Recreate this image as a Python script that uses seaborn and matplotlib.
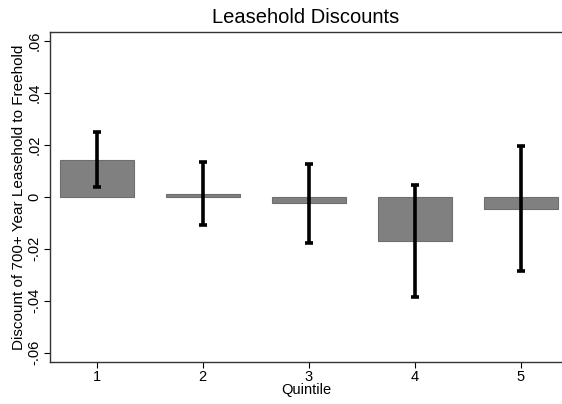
import matplotlib
matplotlib.use('Agg')
import matplotlib.pyplot as plt
import seaborn as sns
import pandas as pd

quintiles = ['1', '2', '3', '4', '5']
discount = [0.0141, 0.0012, -0.0026, -0.0170, -0.0047]
ci_low = [0.0036, -0.0110, -0.0178, -0.0385, -0.0287]
ci_high = [0.0248, 0.0132, 0.0127, 0.0044, 0.0195]
ytick_vals = [-0.06, -0.04, -0.02, 0, 0.02, 0.04, 0.06]
ytick_labels = ['-.06', '-.04', '-.02', '0', '.02', '.04', '.06']

sns.set_style('white')
plt.rcParams['font.family'] = ['Liberation Sans', 'DejaVu Sans']
plt.rcParams['text.color'] = 'black'
plt.rcParams['axes.labelcolor'] = 'black'
plt.rcParams['xtick.color'] = 'black'
plt.rcParams['ytick.color'] = 'black'

df = pd.DataFrame({'Quintile': quintiles, 'Discount': discount})

fig = plt.figure(figsize=(5.62, 4.04), dpi=100)
ax = fig.add_axes([0.089, 0.104, 0.911, 0.8175])

sns.barplot(data=df, x='Quintile', y='Discount', color='#808080', width=0.7,
            edgecolor='#6e6e6e', linewidth=0.8, saturation=1, ax=ax)

# confidence intervals
pos = list(range(len(quintiles)))
mid = [(l + h) / 2 for l, h in zip(ci_low, ci_high)]
half = [(h - l) / 2 for l, h in zip(ci_low, ci_high)]
ax.errorbar(pos, mid, yerr=half, fmt='none', ecolor='black', elinewidth=2.6,
            capsize=3, capthick=2.6)

ax.set_xlim(-0.44, 4.39)
ax.set_ylim(-0.0636, 0.0635)
ax.set_yticks(ytick_vals)
ax.set_yticklabels(ytick_labels, rotation=90, va='center')
ax.tick_params(axis='both', bottom=True, left=True, length=4, width=0.8,
               color='black', labelsize=10.5, pad=2)
ax.tick_params(axis='x', pad=2)

for s in ['left', 'bottom', 'top']:
    ax.spines[s].set_color('#333333')
    ax.spines[s].set_linewidth(1.0)
ax.spines['right'].set_visible(False)

ax.set_title('Leasehold Discounts', fontsize=14.5, pad=6, color='black')
ax.set_xlabel('Quintile', fontsize=10.5, labelpad=-1)
ax.set_ylabel('Discount of 700+ Year Leasehold to Freehold', fontsize=11, labelpad=1)

fig.savefig('out.png', dpi=100)
